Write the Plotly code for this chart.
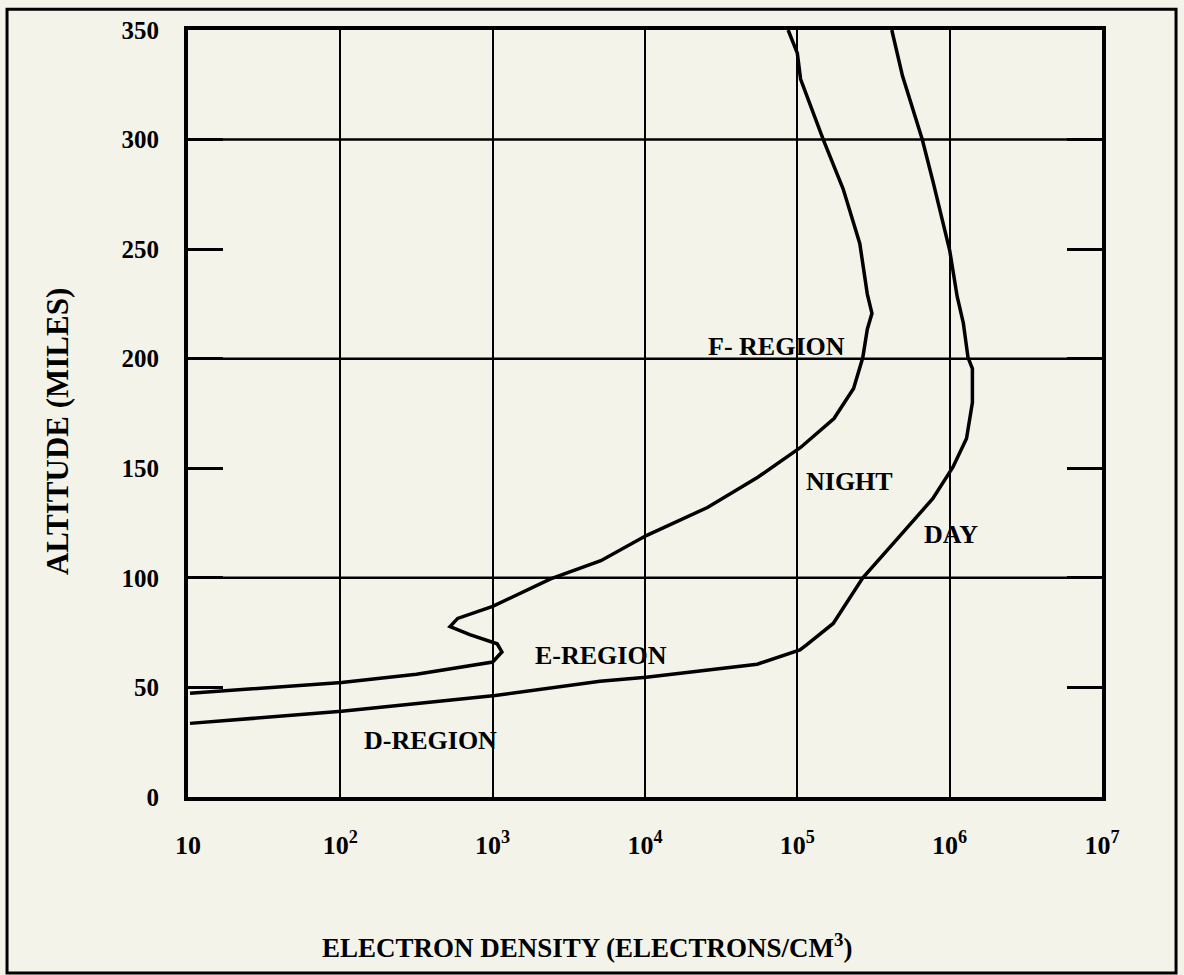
import plotly.graph_objects as go

# ---- data ----
night_density = [10.3, 102, 316, 1000, 1150, 1070, 708, 525, 589, 1000, 2400, 5130,
                 10200, 25700, 55000, 105000, 174000, 234000, 269000, 288000, 309000,
                 288000, 257000, 200000, 148000, 105000, 100000, 87000]
night_altitude = [47.3, 52.3, 56.0, 61.6, 66.2, 69.9, 74.1, 77.8, 81.5, 87.0, 99.5, 107.8,
                  119.3, 132.1, 145.9, 159.5, 172.7, 186.4, 200.5, 213.5, 220.7,
                  229.5, 252.6, 277.4, 300.0, 327.6, 339.4, 350.0]

day_density = [10.3, 102, 1040, 5070, 10200, 54500, 104000, 115000, 172000, 269000,
               473000, 776000, 1050000, 1290000, 1410000, 1410000, 1320000, 1230000,
               1120000, 1000000, 776000, 661000, 490000, 417000]
day_altitude = [33.6, 39.1, 46.3, 52.8, 54.6, 60.6, 67.1, 69.4, 79.2, 100.0,
                119.3, 136.2, 150.5, 163.6, 180.0, 195.5, 200.5, 216.2,
                228.4, 249.5, 281.0, 300.0, 329.1, 350.0]

x_tickvals = [10, 100, 1000, 10000, 100000, 1000000, 10000000]
x_ticktext = ["10", "10<sup>2</sup>", "10<sup>3</sup>", "10<sup>4</sup>",
              "10<sup>5</sup>", "10<sup>6</sup>", "10<sup>7</sup>"]
y_tickvals = [0, 50, 100, 150, 200, 250, 300, 350]
grid_altitudes = [100, 200, 300]

region_labels = ["F- REGION", "NIGHT", "DAY", "E-REGION", "D-REGION"]
region_label_x = [0.644, 0.724, 0.835, 0.452, 0.265]
region_label_y = [0.587, 0.411, 0.342, 0.184, 0.074]

FONT = "Liberation Serif"
BG = "#f3f3ea"

fig = go.Figure()
fig.add_trace(go.Scatter(x=night_density, y=night_altitude, mode="lines",
                         line=dict(color="black", width=3.5), name="Night",
                         showlegend=False))
fig.add_trace(go.Scatter(x=day_density, y=day_altitude, mode="lines",
                         line=dict(color="black", width=3.5), name="Day",
                         showlegend=False))

shapes = []
for a in grid_altitudes:
    shapes.append(dict(type="line", xref="paper", x0=0, x1=1, yref="y", y0=a, y1=a,
                       line=dict(color="black", width=2.5), layer="below"))
# outer frame around the whole figure
shapes.append(dict(type="rect", xref="paper", yref="paper",
                   x0=-0.198, x1=1.081, y0=-0.2295, y1=1.027,
                   line=dict(color="black", width=3)))

annotations = []
for t, ax, ay in zip(region_labels, region_label_x, region_label_y):
    annotations.append(dict(text=t, x=ax, y=ay, xref="paper", yref="paper",
                            xanchor="center", yanchor="middle", showarrow=False,
                            font=dict(family=FONT, size=26, color="black", weight="bold")))
annotations.append(dict(text="ALTITUDE (MILES)", x=-0.142, y=0.476, xref="paper",
                        yref="paper", textangle=-90, showarrow=False,
                        xanchor="center", yanchor="middle",
                        font=dict(family=FONT, size=31, color="black", weight="bold")))
annotations.append(dict(text="ELECTRON DENSITY (ELECTRONS/CM<sup>3</sup>)", x=0.4376,
                        y=-0.194, xref="paper", yref="paper", showarrow=False,
                        xanchor="center", yanchor="middle",
                        font=dict(family=FONT, size=27, color="black", weight="bold")))

fig.update_layout(
    width=1184, height=975,
    margin=dict(l=188, r=82, t=30, b=178),
    paper_bgcolor=BG, plot_bgcolor=BG,
    shapes=shapes, annotations=annotations,
    xaxis=dict(type="log", range=[1, 7], tickvals=x_tickvals, ticktext=x_ticktext,
               showgrid=True, gridcolor="black", gridwidth=2,
               showline=True, linecolor="black", linewidth=4, mirror=True,
               ticks="", ticklabelstandoff=22, zeroline=False,
               tickfont=dict(family=FONT, size=26, color="black", weight="bold")),
    yaxis=dict(range=[0, 350], tickvals=y_tickvals, showgrid=False, zeroline=False,
               showline=True, linecolor="black", linewidth=4, mirror="ticks",
               ticks="inside", ticklen=35, tickwidth=2.5, tickcolor="black",
               ticklabelstandoff=20,
               tickfont=dict(family=FONT, size=25, color="black", weight="bold")),
)

fig.write_html("out.html", config={"displayModeBar": False},
               post_script="document.body.style.margin='0';document.body.style.overflow='hidden';")
